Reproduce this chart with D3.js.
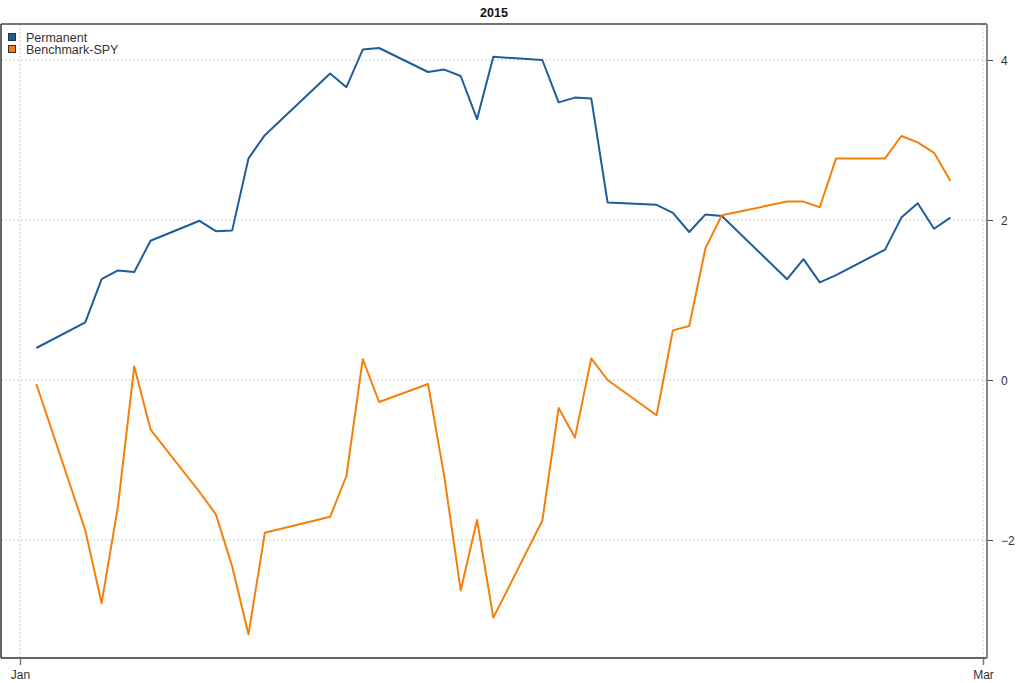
<!DOCTYPE html>
<html>
<head>
<meta charset="utf-8">
<script src="https://cdn.jsdelivr.net/npm/d3@7"></script>
<style>
  body { margin: 0; background: #fff; }
  svg { display: block; font-family: "Liberation Sans", Arial, sans-serif; }
</style>
</head>
<body>
<svg id="chart" width="1024" height="683"></svg>
<script>
const dates = ["2015-01-02","2015-01-05","2015-01-06","2015-01-07","2015-01-08","2015-01-09",
  "2015-01-12","2015-01-13","2015-01-14","2015-01-15","2015-01-16",
  "2015-01-20","2015-01-21","2015-01-22","2015-01-23",
  "2015-01-26","2015-01-27","2015-01-28","2015-01-29","2015-01-30",
  "2015-02-02","2015-02-03","2015-02-04","2015-02-05","2015-02-06",
  "2015-02-09","2015-02-10","2015-02-11","2015-02-12","2015-02-13",
  "2015-02-17","2015-02-18","2015-02-19","2015-02-20",
  "2015-02-23","2015-02-24","2015-02-25","2015-02-26","2015-02-27"];
const permanent = [0.40, 0.72, 1.26, 1.37, 1.35, 1.74,
  1.99, 1.86, 1.87, 2.77, 3.06,
  3.83, 3.66, 4.13, 4.15,
  3.85, 3.88, 3.80, 3.26, 4.04,
  4.00, 3.47, 3.53, 3.52, 2.22,
  2.19, 2.09, 1.85, 2.07, 2.05,
  1.26, 1.51, 1.22, 1.31,
  1.63, 2.03, 2.21, 1.89, 2.03];
const benchmark = [-0.05, -1.88, -2.79, -1.58, 0.17, -0.62,
  -1.40, -1.68, -2.33, -3.18, -1.91,
  -1.71, -1.20, 0.26, -0.275,
  -0.05, -1.21, -2.63, -1.75, -2.97,
  -1.76, -0.35, -0.72, 0.27, 0.00,
  -0.44, 0.62, 0.675, 1.65, 2.06,
  2.23, 2.23, 2.16, 2.77,
  2.77, 3.05, 2.97, 2.84, 2.49];
const seriesNames = ["Permanent", "Benchmark-SPY"];
const seriesColors = ["#1F5C99", "#F57F0A"];
const yTicks = [-2, 0, 2, 4];
const xTickDates = ["2015-01-01", "2015-03-01"];
const xTickLabels = ["Jan", "Mar"];
const title = "2015";

(function () {
const parse = d3.utcParse("%Y-%m-%d");
const svg = d3.select("#chart");
const pl = 1, pr = 987, pt = 24, pb = 658;

const x = d3.scaleUtc().domain([parse("2015-01-01"), parse("2015-03-01")]).range([20, 983]);
const y = d3.scaleLinear().domain([0, 4]).range([380, 60]);

// grid
const grid = svg.append("g");
grid.selectAll("line.h").data(yTicks).join("line")
  .attr("x1", pl).attr("x2", pr)
  .attr("y1", d => y(d)).attr("y2", d => y(d))
  .attr("stroke", "#d0d0d0").attr("stroke-dasharray", "2,2").attr("stroke-width", 1);
grid.selectAll("line.v").data(xTickDates).join("line")
  .attr("x1", d => x(parse(d))).attr("x2", d => x(parse(d)))
  .attr("y1", pt).attr("y2", pb)
  .attr("stroke", "#d0d0d0").attr("stroke-dasharray", "2,2").attr("stroke-width", 1);

// series
const series = [permanent, benchmark];
const line = d3.line().x((d, i) => x(parse(dates[i]))).y(d => y(d));
series.forEach((s, k) => {
  svg.append("path").datum(s).attr("d", line)
    .attr("fill", "none").attr("stroke", seriesColors[k])
    .attr("stroke-width", 2).attr("stroke-linejoin", "round");
});

// frame
svg.append("line").attr("x1", pl).attr("x2", pr).attr("y1", pt).attr("y2", pt)
  .attr("stroke", "#444").attr("stroke-width", 1.5);
svg.append("line").attr("x1", pl).attr("x2", pr).attr("y1", pb).attr("y2", pb)
  .attr("stroke", "#333").attr("stroke-width", 1.5);
svg.append("line").attr("x1", pl).attr("x2", pl).attr("y1", pt).attr("y2", pb)
  .attr("stroke", "#333").attr("stroke-width", 1.5);

// right axis
const yAxis = d3.axisRight(y).tickValues(yTicks).tickSize(6).tickPadding(8).tickFormat(d3.format("d"));
const ya = svg.append("g").attr("transform", `translate(${pr},0)`).call(yAxis);
ya.select(".domain").remove();
svg.append("line").attr("x1", pr).attr("x2", pr).attr("y1", pt).attr("y2", pb)
  .attr("stroke", "#888").attr("stroke-width", 2);
ya.selectAll(".tick line").attr("stroke", "#444");
ya.selectAll(".tick text").attr("fill", "#333").attr("font-size", 12)
  .attr("font-family", "Liberation Sans, Arial, sans-serif").attr("dy", "0.4em");

// bottom axis
const xAxis = d3.axisBottom(x).tickValues(xTickDates.map(parse)).tickSize(7).tickPadding(5)
  .tickFormat((d, i) => xTickLabels[i]);
const xa = svg.append("g").attr("transform", `translate(0,${pb})`).call(xAxis);
xa.select(".domain").remove();
xa.selectAll(".tick line").attr("stroke", "#777").attr("stroke-width", 1.5);
xa.selectAll(".tick text").attr("fill", "#333").attr("font-size", 12)
  .attr("font-family", "Liberation Sans, Arial, sans-serif");

// title
svg.append("text").attr("x", 494).attr("y", 17).attr("text-anchor", "middle")
  .attr("font-weight", "bold").attr("font-size", 12.5).attr("fill", "#111").text(title);

// legend
const lg = svg.append("g");
seriesNames.forEach((n, k) => {
  lg.append("rect").attr("x", 8.5).attr("y", 33.5 + k * 12).attr("width", 7).attr("height", 7)
    .attr("fill", seriesColors[k]).attr("stroke", "#333").attr("stroke-width", 1);
  lg.append("text").attr("x", 26).attr("y", 41.5 + k * 12).attr("font-size", 12.5)
    .attr("fill", "#333").text(n);
});
})();
</script>
</body>
</html>
